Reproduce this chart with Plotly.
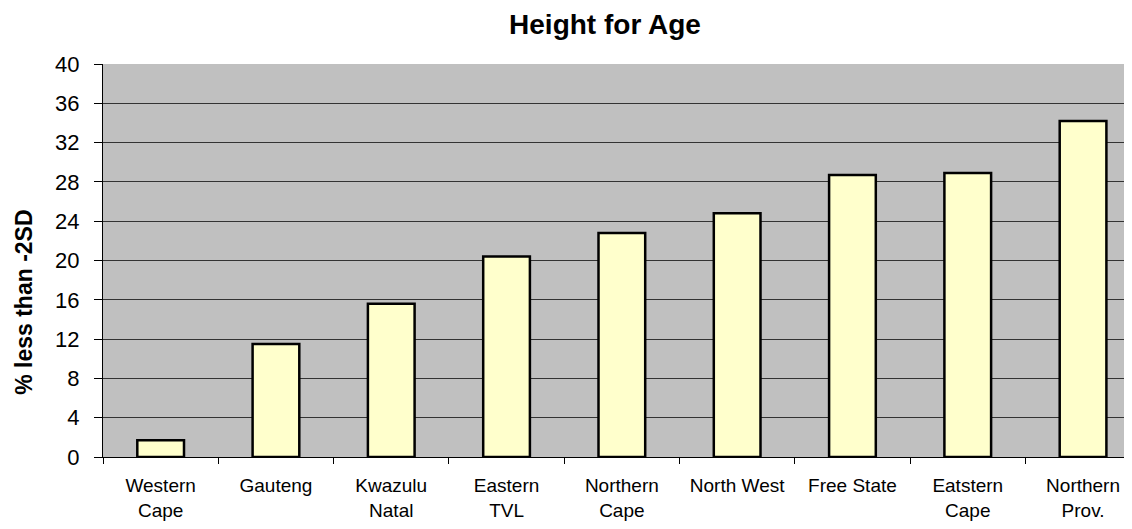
import plotly.graph_objects as go

regions = ['Western<br>Cape', 'Gauteng', 'Kwazulu<br>Natal', 'Eastern<br>TVL', 'Northern<br>Cape',
           'North West', 'Free State', 'Eatstern<br>Cape', 'Northern<br>Prov.']
pct_below = [1.7, 11.5, 15.6, 20.4, 22.8, 24.8, 28.7, 28.9, 34.2]
y_ticks = list(range(0, 41, 4))

# page body has an 8px margin; keep the figure inside the window (no scrollbars)
OFF = 8
W, H = 1132 - 2 * OFF, 529 - 2 * OFF
ml, mt = 103 - OFF, 64 - OFF
mb = H - (459 - OFF)
cat_px = 115.3  # pixel width of one category in the reference
x_end = -0.5 + (W - ml) / cat_px

fig = go.Figure()
fig.add_trace(go.Bar(
    x=regions,
    y=pct_below,
    marker=dict(color='#FFFFCC', line=dict(color='black', width=2.5)),
    width=0.405,
    showlegend=False,
))

fig.update_layout(
    width=W, height=H,
    margin=dict(l=ml, r=0, t=mt, b=mb),
    paper_bgcolor='white',
    plot_bgcolor='#C0C0C0',
    font=dict(family='Liberation Sans, Arial', color='black'),
    title=dict(text='<b>Height for Age</b>', font=dict(size=28),
               x=(605 - OFF) / W, xref='container', xanchor='center',
               y=1 - (24 - OFF) / H, yref='container', yanchor='middle'),
    xaxis=dict(
        range=[-0.5, x_end],
        tickson='boundaries', ticks='outside', ticklen=6, tickcolor='black',
        showline=True, linecolor='black', linewidth=1,
        showgrid=False,
        tickfont=dict(size=19),
        ticklabelstandoff=11,
    ),
    yaxis=dict(
        range=[0, 40], tickvals=y_ticks,
        ticks='outside', ticklen=8, tickcolor='black',
        showline=True, linecolor='black', linewidth=1,
        showgrid=True, gridcolor='#333333', gridwidth=1,
        zeroline=False,
        tickfont=dict(size=22),
        ticklabelstandoff=10,
    ),
    annotations=[dict(
        text='<b>% less than -2SD</b>', textangle=-90,
        xref='paper', yref='paper',
        x=(24 - 103) / (W + OFF - 103), y=(459 - 304) / (459 - 64),
        xanchor='center', yanchor='middle', showarrow=False,
        font=dict(size=23),
    )],
)

fig.write_html("out.html")
